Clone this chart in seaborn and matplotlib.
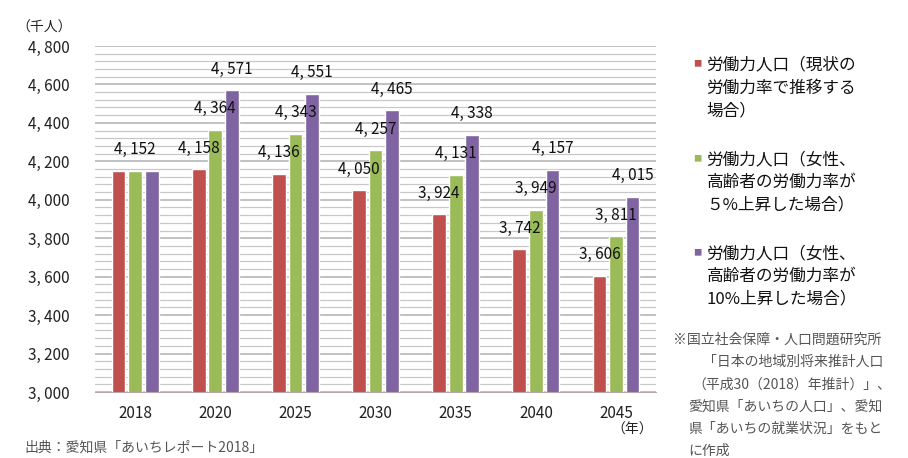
import pandas as pd
import numpy as np
import seaborn as sns
import matplotlib.pyplot as plt
from matplotlib.ticker import MultipleLocator, FuncFormatter

# data (thousand persons)
years = ["2018", "2020", "2025", "2030", "2035", "2040", "2045"]
current_rate = [4152, 4158, 4136, 4050, 3924, 3742, 3606]
plus5 = [4152, 4364, 4343, 4257, 4131, 3949, 3811]
plus10 = [4152, 4571, 4551, 4465, 4338, 4157, 4015]

series_names = ["現状", "5%", "10%"]
legend_labels = [
    "労働力人口（現状の\n労働力率で推移する\n場合）",
    "労働力人口（女性、\n高齢者の労働力率が\n５%上昇した場合）",
    "労働力人口（女性、\n高齢者の労働力率が\n10%上昇した場合）",
]
colors = ["#C0504D", "#9BBB59", "#8064A2"]

df = pd.DataFrame({
    "year": years * 3,
    "series": np.repeat(series_names, len(years)),
    "value": current_rate + plus5 + plus10,
})

sns.set_style("white")
plt.rcParams["font.family"] = ["Noto Sans CJK JP", "DejaVu Sans"]

fig = plt.figure(figsize=(9.08, 4.58), dpi=100)
ax = fig.add_axes([0.1046, 0.1441, 0.618, 0.7555])

sns.barplot(data=df, x="year", y="value", hue="series", palette=colors,
            width=0.62, gap=0.17, legend=False, ax=ax, saturation=1)

ax.set_ylim(3000, 4800)
ax.yaxis.set_major_locator(MultipleLocator(200))
ax.yaxis.set_minor_locator(MultipleLocator(40))
ax.yaxis.set_major_formatter(FuncFormatter(lambda v, p: f"{int(v):,}".replace(",", ", ")))
ax.grid(axis="y", which="major", color="#B0B0B0", linewidth=1.1)
ax.grid(axis="y", which="minor", color="#C8C8C8", linewidth=0.9)
ax.set_axisbelow(True)
ax.tick_params(axis="y", which="both", length=0, pad=18, labelsize=11, labelcolor="#222222")
ax.tick_params(axis="x", length=0, pad=9, labelsize=11, labelcolor="#222222")
ax.set_xlabel("")
ax.set_ylabel("")
for s in ["left", "right", "top"]:
    ax.spines[s].set_visible(False)
ax.spines["bottom"].set_color("#B8A8A8")

# value labels (2018 values are equal, so one label only)
for i, cont in enumerate(ax.containers):
    labs = []
    for j, bar in enumerate(cont):
        v = int(round(bar.get_height()))
        if j == 0 and i != 1:
            labs.append("")
        else:
            labs.append(f"{v:,}".replace(",", ", "))
    ax.bar_label(cont, labels=labs, padding=9, fontsize=11, color="#111111")

fig.text(0.018, 0.94, "（千人）", fontsize=10, va="center", ha="left", color="#222222")
fig.text(0.696, 0.062, "（年）", fontsize=10, va="center", ha="center", color="#222222")
fig.text(0.027, 0.022, "出典：愛知県「あいちレポート2018」", fontsize=10, va="center",
         ha="left", color="#555555")

# legend on the right
legend_tops = [0.876, 0.670, 0.465]
for lab, c, yt in zip(legend_labels, colors, legend_tops):
    fig.text(0.763, yt - 0.016, "■", color=c, fontsize=6, va="center", ha="left")
    fig.text(0.778, yt, lab, fontsize=12, va="top", ha="left", linespacing=1.45,
             color="#111111")

# source note
note_lines = [
    (0.741, "※国立社会保障・人口問題研究所"),
    (0.774, "「日本の地域別将来推計人口"),
    (0.762, "（平成30（2018）年推計）」、"),
    (0.758, "愛知県「あいちの人口」、愛知"),
    (0.758, "県「あいちの就業状況」をもと"),
    (0.758, "に作成"),
]
for k, (x, line) in enumerate(note_lines):
    fig.text(x, 0.258 - k * 0.0485, line, fontsize=10, va="center", ha="left",
             color="#555555")

fig.savefig("out.png", dpi=100)
